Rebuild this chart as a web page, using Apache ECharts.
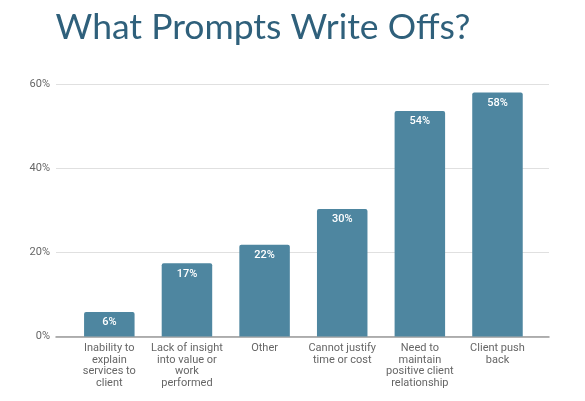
<!DOCTYPE html>
<html>
<head>
<meta charset="utf-8">
<script src="https://cdn.jsdelivr.net/npm/echarts@6/dist/echarts.min.js"></script>
<style>
html,body{margin:0;padding:0;background:#fff;}
#main{width:585px;height:401px;}
</style>
</head>
<body>
<div id="main"></div>
<script>
var categories = [
  'Inability to\nexplain\nservices to\nclient',
  'Lack of insight\ninto value or\nwork\nperformed',
  'Other',
  'Cannot justify\ntime or cost',
  'Need to\nmaintain\npositive client\nrelationship',
  'Client push\nback'
];
var values = [5.8, 17.4, 21.8, 30.3, 53.6, 58.0];
var yTicks = [0, 20, 40, 60];

var chart = echarts.init(document.getElementById('main'));
var gridTop = 84, gridBottom = 401 - 336.5;
chart.setOption({
  animation: false,
  title: {
    text: 'What Prompts Write Offs?',
    left: 258, top: 5, textAlign: 'center',
    textStyle: { fontFamily: 'Lato', fontWeight: 'normal', fontSize: 35.5, color: '#2f607b' }
  },
  grid: [
    { left: 70.5, right: 48.7, top: gridTop, bottom: gridBottom },
    { left: 56, right: 36, top: gridTop, bottom: gridBottom }
  ],
  xAxis: [
    {
      type: 'category', gridIndex: 0, data: categories,
      axisLine: { show: false }, axisTick: { show: false },
      axisLabel: { interval: 0, color: '#666', fontFamily: 'Roboto', fontSize: 11, lineHeight: 11.5, margin: 6 }
    },
    {
      type: 'value', gridIndex: 1, min: 0, max: 1, show: true,
      axisLine: { show: true, onZero: true, lineStyle: { color: '#9a9a9a', width: 1.5 } },
      axisTick: { show: false }, axisLabel: { show: false }, splitLine: { show: false }
    }
  ],
  yAxis: [
    { type: 'value', gridIndex: 0, min: 0, max: 60, interval: 20, show: false, splitLine: { show: false } },
    {
      type: 'value', gridIndex: 1, min: yTicks[0], max: yTicks[yTicks.length - 1], interval: 20,
      axisLine: { show: false }, axisTick: { show: false },
      axisLabel: { formatter: '{value}%', color: '#666', fontFamily: 'Roboto', fontSize: 11, margin: 6 },
      splitLine: { lineStyle: { color: '#e0e0e0', width: 1 } }
    }
  ],
  series: [
    {
      type: 'bar', xAxisIndex: 0, yAxisIndex: 0, data: values,
      barWidth: 50.5, z: 3,
      itemStyle: { color: '#4e86a0', borderRadius: [2, 2, 0, 0] },
      label: {
        show: true, position: 'insideTop', distance: 5,
        formatter: function (p) { return Math.round(p.value) + '%'; },
        color: '#fff', fontFamily: 'Roboto', fontWeight: 500, fontSize: 11
      }
    }
  ]
});
</script>
</body>
</html>
